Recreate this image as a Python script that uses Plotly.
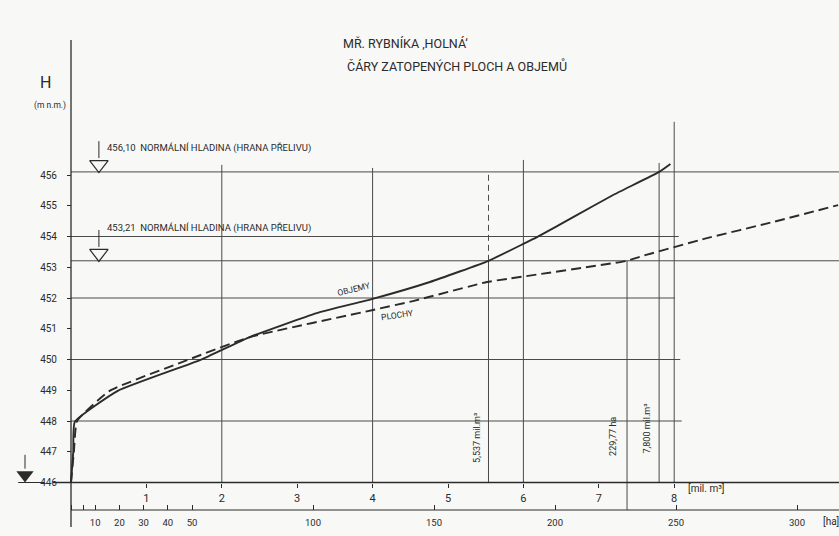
import plotly.graph_objects as go

# ---------------- data ----------------
# OBJEMY – volume curve  (H [m n.m.] vs volume [mil. m3])
vol_H = [446.0, 447.0, 447.97, 448.98, 449.98, 450.73, 451.51, 451.97, 452.52,
         453.21, 453.76, 453.98, 454.63, 455.35, 456.10, 456.36]
vol_V = [0.0, 0.03, 0.05, 0.62, 1.71, 2.37, 3.26, 4.00, 4.76,
         5.537, 6.00, 6.18, 6.66, 7.19, 7.80, 7.95]

# PLOCHY – flooded area curve (H vs area [ha])
area_H = [446.0, 447.0, 448.0, 448.98, 449.98, 450.73, 451.61, 451.90, 452.52,
          452.62, 453.21, 453.34, 453.93, 454.47, 455.02]
area_A = [0.0, 1.2, 2.5, 16, 48, 74, 124.8, 141.3, 171.9,
          180.2, 229.77, 235, 262, 290, 317]

# axis ticks
H_ticks = [446, 447, 448, 449, 450, 451, 452, 453, 454, 455, 456]
V_ticks = [1, 2, 3, 4, 5, 6, 7, 8]
A_ticks = [0, 5, 10, 20, 30, 40, 50, 100, 150, 200, 250, 300]
A_labels = ["", "", "10", "20", "30", "40", "50", "100", "150", "200", "250", "300"]

# reference values
levels = [456.10, 453.21]
level_texts = ["456,10  NORMÁLNÍ HLADINA (HRANA PŘELIVU)",
               "453,21  NORMÁLNÍ HLADINA (HRANA PŘELIVU)"]
grid_H = [456.10, 454.0, 453.21, 452.0, 450.0, 448.0]
grid_H_end = [10.3, 8.06, 10.3, 8.01, 8.08, 8.10]
grid_V = [2, 4, 6, 7.8, 8]
grid_V_top = [456.33, 456.23, 456.49, 456.39, 457.73]
V_norm = 5.537
A_norm = 229.77
V_max = 7.800
H_base = 446.0

# ---------------- layout geometry ----------------
W, Hpx = 839, 536
px_per_V = 75.4
px_per_A = 2.42
px_per_m = 30.75
x0_px = 71
y446_px = 482.5

xr_V = [-x0_px / px_per_V, (W - x0_px) / px_per_V]
xr_A = [-x0_px / px_per_A, (W - x0_px) / px_per_A]
yr = [H_base - (Hpx - y446_px) / px_per_m, H_base + y446_px / px_per_m]
area_axis_H = H_base - 27.5 / px_per_m

def yfrac(h):
    return (h - yr[0]) / (yr[1] - yr[0])

INK = "#2b2b2b"
GRID = "#4a4a4a"
FONT = "Roboto"

fig = go.Figure()

fig.add_trace(go.Scatter(x=vol_V, y=vol_H, mode="lines", xaxis="x", yaxis="y",
                         line=dict(color=INK, width=1.9, shape="spline", smoothing=0.4),
                         name="OBJEMY", showlegend=False))
fig.add_trace(go.Scatter(x=area_A, y=area_H, mode="lines", xaxis="x2", yaxis="y",
                         line=dict(color=INK, width=1.9, dash="10px,5px", shape="spline", smoothing=0.4),
                         name="PLOCHY", showlegend=False))

shapes = []
def line(x0, y0, x1, y1, xref="x", w=1, color=GRID, dash=None):
    d = dict(type="line", xref=xref, yref="y", x0=x0, y0=y0, x1=x1, y1=y1,
             line=dict(color=color, width=w), layer="below")
    if dash:
        d["line"]["dash"] = dash
    shapes.append(d)

# horizontal grid / water level lines
for h, xe in zip(grid_H, grid_H_end):
    line(0, h, xe, h)
# vertical grid lines
for v, top in zip(grid_V, grid_V_top):
    line(v, H_base, v, top)
# 5.537 mil m3 line: dashed above 453.21, solid below
line(V_norm, levels[1], V_norm, levels[0], dash="6px,4px")
line(V_norm, H_base, V_norm, levels[1])
# 229.77 ha line
line(A_norm, area_axis_H, A_norm, levels[1], xref="x2")
# main axis lines
line(0, 444.55, 0, 460.39, w=1.3, color=INK)
line(-0.24, H_base, xr_V[1], H_base, w=1.3, color=INK)
line(0, area_axis_H, xr_A[1], area_axis_H, xref="x2", w=1.1, color=INK)
# small stems above the water level triangles
for h in levels:
    line(0.37, h + 0.45, 0.37, h + 1.0, w=1, color=INK)
line(-0.61, H_base + 0.45, -0.61, H_base + 0.9, w=1, color=INK)
line(-0.7, H_base, -0.35, H_base, w=1, color=INK)

fig.add_trace(go.Scatter(x=[0.37, 0.37], y=[h + 0.24 for h in levels], mode="markers",
                         xaxis="x", yaxis="y", showlegend=False, hoverinfo="skip",
                         marker=dict(symbol="triangle-down-open", size=16, color=INK,
                                     line=dict(width=1.2, color=INK))))
fig.add_trace(go.Scatter(x=[-0.61], y=[H_base + 0.24], mode="markers",
                         xaxis="x", yaxis="y", showlegend=False, hoverinfo="skip",
                         marker=dict(symbol="triangle-down", size=15, color=INK)))

ann = []
def txt(x, y, s, size=10, xref="x", yref="y", xanchor="left", yanchor="middle", angle=0):
    ann.append(dict(x=x, y=y, xref=xref, yref=yref, text=s, showarrow=False,
                    xanchor=xanchor, yanchor=yanchor, textangle=angle,
                    font=dict(family=FONT, size=size, color=INK)))

for h, s, off in zip(levels, level_texts, [0.78, 1.08]):
    txt(0.45, h + off, s, size=9.5)

txt(0.483, 0.918, "MŘ. RYBNÍKA ‚HOLNÁ‘", size=12.5, xref="paper", yref="paper", xanchor="center")
txt(0.545, 0.877, "ČÁRY ZATOPENÝCH PLOCH A OBJEMŮ", size=12.5, xref="paper", yref="paper", xanchor="center")
txt(0.054, 0.847, "H", size=16, xref="paper", yref="paper", xanchor="center")
txt(0.060, 0.804, "(m n.m.)", size=8.5, xref="paper", yref="paper", xanchor="center")

txt(3.75, 452.3, "OBJEMY", size=8.5, xanchor="center", angle=-14)
txt(4.33, 451.45, "PLOCHY", size=8.5, xanchor="center", angle=-8)

txt(V_norm - 0.06, 447.45, "5,537 mil.m³", size=9, xanchor="right", angle=-90)
txt(A_norm - 2.7, 447.5, "229,77 ha", size=9, xref="x2", xanchor="right", angle=-90)
txt(V_max - 0.07, 447.75, "7,800 mil.m³", size=9, xanchor="right", angle=-90)

txt(8.15, H_base - 0.18, "[mil. m³]", size=10)
txt(310, area_axis_H - 0.36, "[ha]", size=10, xref="x2")

fig.update_layout(
    width=W, height=Hpx,
    margin=dict(l=0, r=0, t=0, b=0),
    paper_bgcolor="#f8f8f6", plot_bgcolor="rgba(0,0,0,0)",
    shapes=shapes, annotations=ann,
    xaxis=dict(range=xr_V, domain=[0, 1], anchor="free", position=yfrac(H_base),
               tickvals=V_ticks, ticktext=[str(v) for v in V_ticks],
               ticks="outside", ticklen=4, tickcolor=INK, showgrid=False,
               zeroline=False, showline=False, ticklabelstandoff=1,
               tickfont=dict(family=FONT, size=11, color=INK)),
    xaxis2=dict(range=xr_A, overlaying="x", anchor="free", position=yfrac(area_axis_H),
                tickvals=A_ticks, ticktext=A_labels, side="bottom",
                ticks="inside", ticklen=5, tickcolor=INK, showgrid=False,
                zeroline=False, showline=False, ticklabelstandoff=5,
                tickfont=dict(family=FONT, size=9.5, color=INK)),
    yaxis=dict(range=yr, domain=[0, 1], anchor="free", position=x0_px / W,
               tickvals=H_ticks, ticktext=[str(t) for t in H_ticks],
               ticks="outside", ticklen=4, tickcolor=INK, showgrid=False,
               zeroline=False, showline=False, ticklabelstandoff=8,
               tickfont=dict(family=FONT, size=10, color=INK)),
)

fig.write_html("out.html")
